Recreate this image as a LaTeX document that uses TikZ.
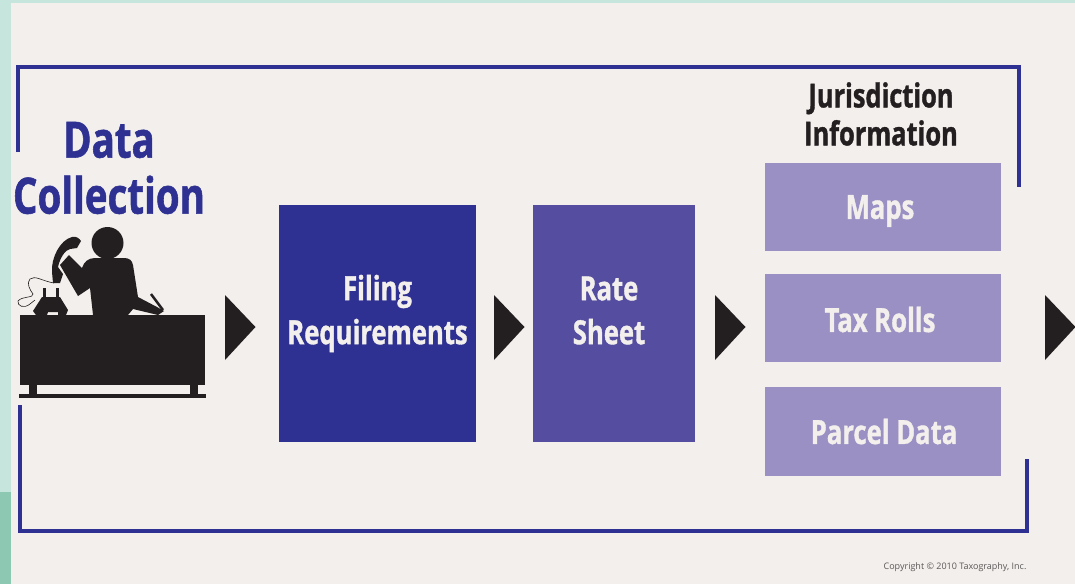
\documentclass[tikz,border=0pt]{standalone}
\usepackage{xcolor}
\usepackage{fontspec}
\setmainfont{Open Sans}[FakeStretch=0.77, BoldFeatures={FakeBold=1.1}]
\newfontfamily\plainfont{Open Sans}
\usetikzlibrary{positioning}

\definecolor{paper}{HTML}{F2EFEC}
\definecolor{mint}{HTML}{C6E6DD}
\definecolor{teal}{HTML}{8CC8B2}
\definecolor{navy}{HTML}{2E3192}
\definecolor{violet}{HTML}{544DA0}
\definecolor{lilac}{HTML}{9A90C3}
\definecolor{ink}{HTML}{231F20}

\tikzset{
    block/.style={fill=#1, inner sep=0pt},
    caption/.style={text=paper, align=center, inner sep=0pt, font=\fontsize{33.3}{44}\selectfont\bfseries},
    frame/.style={draw=navy, line width=4.5pt, line cap=butt, line join=miter},
    pointer/.style={fill=ink},
}

\begin{document}
\begin{tikzpicture}[x=1pt, y=-1pt]
        \useasboundingbox (0, 0) rectangle (1075, 584);

        % Background
        \fill [mint] (0, 0) rectangle (1075, 584);
        \fill [teal] (0, 492) rectangle (11, 584);
        \fill [paper] (11, 3) rectangle (1075, 584);

        % Frame
        \draw [frame] (18, 152) -- (18, 67) -- (1019, 67) -- (1019, 187);
        \draw [frame] (20, 405) -- (20, 531) -- (1027, 531) -- (1027, 459);

        % Blocks
        \node [block=navy, minimum width=197pt, minimum height=237pt] (filing) at (377.5, 323.5) {};
        \node [block=violet, minimum width=162pt, minimum height=237pt] (rate) at (614, 323.5) {};
        \node [block=lilac, minimum width=236pt, minimum height=88pt] (maps) at (883, 207) {};
        \node [block=lilac, minimum width=236pt, minimum height=88pt] (rolls) at (883, 318) {};
        \node [block=lilac, minimum width=236pt, minimum height=89pt] (parcel) at (883, 431.5) {};

        % Captions
        \node [caption] (filingtext) at (377.5, 313.5) {Filing\\Requirements};
        \node [caption] (ratetext) at (609, 310.5) {Rate\\Sheet};
        \node [caption] (mapstext) at (880, 211) {Maps};
        \node [caption] (rollstext) at (880, 319.5) {Tax Rolls};
        \node [caption] (parceltext) at (884, 431.5) {Parcel Data};

        % Headings
        \node [text=navy, align=center, font=\fontsize{50}{56}\selectfont\bfseries] (data) at (109, 168) {Data\\Collection};
        \node [text=ink, align=center, font=\fontsize{33}{38}\selectfont\bfseries] (juris) at (881, 114) {Jurisdiction\\Information};

        % Pointers
        \foreach \x in {225, 494, 715, 1045} {
            \fill [pointer] (\x, 295) -- (\x + 30.5, 327) -- (\x, 360) -- cycle;
        }

        % Desk
        \fill [ink] (20, 315) rectangle (205, 385);
        \fill [ink] (29, 385) rectangle (37, 395);
        \fill [ink] (190, 385) rectangle (198, 395);
        \fill [ink] (19, 394) rectangle (206, 398);

        % Person
        \fill [ink] (107.5, 243) circle [radius=16];
        \fill [ink] (93, 315) -- (90, 288) -- (78, 296) -- (60, 265) -- (69, 255) -- (82, 268)
            .. controls (84, 262) and (88, 258) .. (95, 258) -- (124, 258)
            .. controls (129, 258) and (132, 260) .. (133, 265) -- (138, 297) -- (157, 307)
            -- (164, 311) -- (158, 315) -- (133, 309) -- (128, 315) -- cycle;
        \draw [ink, line width=2.5pt] (151, 294) -- (163, 310);

        % Phone
        \fill [ink] (72, 237) .. controls (60, 240) and (51, 258) .. (52, 272) -- (53, 283) -- (60, 283)
            -- (63, 274) -- (58, 267) .. controls (60, 258) and (65, 250) .. (70, 249) -- (77, 248) -- (81, 241)
            .. controls (79, 238) and (76, 236) .. (72, 237) -- cycle;
        \fill [ink] (33, 311) -- (42, 297) -- (60, 297) -- (68, 310) -- (66, 315) -- (58, 315) -- (58, 312)
            -- (48, 312) -- (47, 315) -- (36, 315) -- cycle;
        \fill [ink] (43, 288) rectangle (46, 298);
        \fill [ink] (56, 288) rectangle (59, 298);
        \draw [ink, line width=0.6pt] (54, 283) .. controls (42, 281) and (35, 275) .. (30, 279)
            .. controls (26, 283) and (30, 290) .. (33, 294) .. controls (34, 298) and (22, 296) .. (18, 301)
            .. controls (17, 306) and (24, 309) .. (30, 304) -- (35, 300);

        % Footer
        \node [text=ink!75, font=\plainfont\fontsize{9}{10}\selectfont] (copyright) at (955, 567.5) {Copyright © 2010 Taxography, Inc.};
    \end{tikzpicture}
\end{document}
